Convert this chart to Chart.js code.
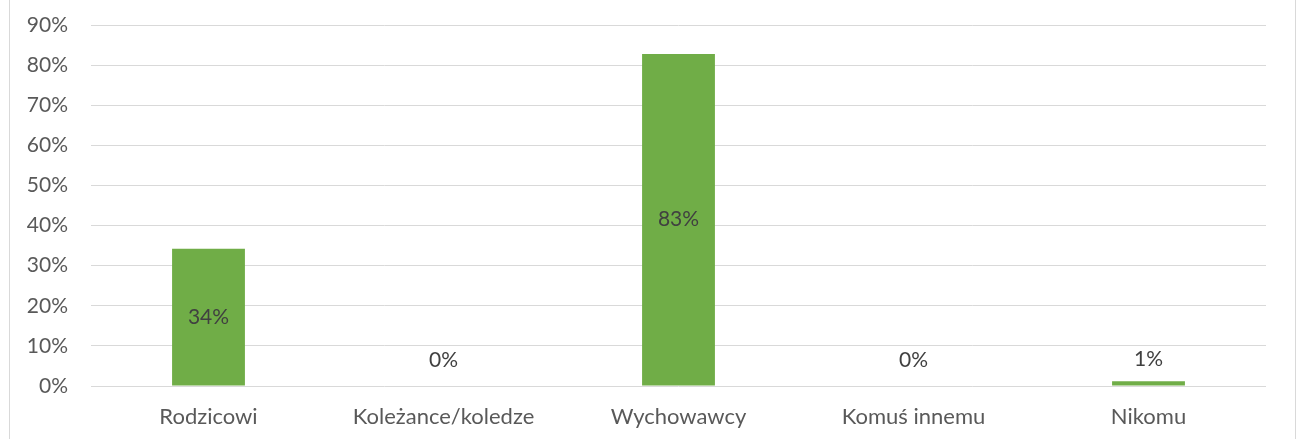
<!DOCTYPE html>
<html><head><meta charset="utf-8">
<script src="https://cdn.jsdelivr.net/npm/chart.js@4/dist/chart.umd.min.js"></script>
<style>
html,body{margin:0;padding:0;background:#fff;overflow:hidden;}
#frame{position:absolute;left:9px;top:-2px;width:1285px;height:445px;border:1px solid #d9d9d9;}
#c{position:absolute;left:0;top:0;}
</style></head><body>
<div id="frame"></div>
<canvas id="c" width="1300" height="439"></canvas>
<script>
const categories = ["Rodzicowi", "Koleżance/koledze", "Wychowawcy", "Komuś innemu", "Nikomu"];
const values = [34.2, 0, 82.8, 0, 1.2];
const yTicks = [0, 10, 20, 30, 40, 50, 60, 70, 80, 90];

const FONT = "Lato, 'Open Sans', sans-serif";

const labelPlugin = {
  id: 'barLabels',
  afterDatasetsDraw(chart) {
    const ctx = chart.ctx;
    const meta = chart.getDatasetMeta(0);
    ctx.save();
    ctx.font = "21px " + FONT;
    ctx.fillStyle = "#404040";
    ctx.textAlign = "center";
    ctx.textBaseline = "middle";
    meta.data.forEach((bar, i) => {
      const base = bar.base;
      const top = bar.y;
      let y = (top + base) / 2;
      if (y > base - 26) y = base - 26;
      ctx.fillText(Math.round(values[i]) + "%", bar.x, y);
    });
    ctx.restore();
  }
};

new Chart(document.getElementById('c'), {
  type: 'bar',
  data: {
    labels: categories,
    datasets: [{
      data: values,
      backgroundColor: '#70AD47',
      borderWidth: 0,
      categoryPercentage: 1,
      barPercentage: 0.31
    }]
  },
  options: {
    responsive: false,
    animation: false,
    devicePixelRatio: 1,
    layout: { padding: { left: 0, right: 34, top: 25, bottom: 0 } },
    plugins: { legend: { display: false }, tooltip: { enabled: false } },
    scales: {
      x: {
        grid: { display: false, drawTicks: false },
        border: { display: false },
        ticks: { color: '#595959', font: { family: FONT, size: 22 }, padding: 18, maxRotation: 0 },
        afterFit(s) { s.height = 53; s.paddingLeft = 0; s.paddingRight = 0; }
      },
      y: {
        min: 0, max: 90,
        afterBuildTicks(s) { s.ticks = yTicks.map(v => ({ value: v })); },
        grid: { color: '#d9d9d9', lineWidth: 1, drawTicks: false },
        border: { display: false },
        ticks: { color: '#595959', font: { family: FONT, size: 21 }, padding: 23, callback: v => v + '%' },
        afterFit(s) { s.width = 91; s.paddingTop = 0; s.paddingBottom = 0; }
      }
    }
  },
  plugins: [labelPlugin]
});
</script>
</body></html>
